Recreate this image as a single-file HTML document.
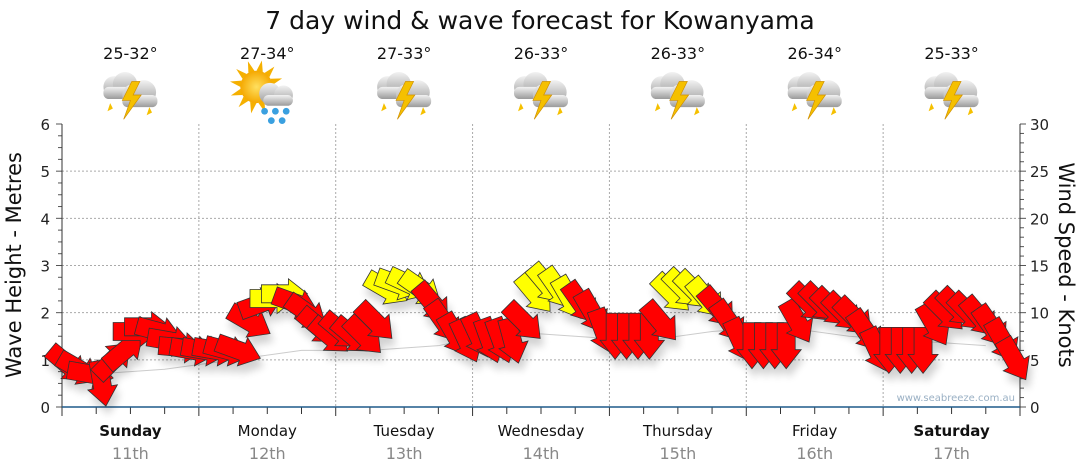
<!DOCTYPE html>
<html><head><meta charset="utf-8"><style>
html,body{margin:0;padding:0;background:#fff;width:1080px;height:475px;overflow:hidden}
svg{display:block;font-family:"DejaVu Sans","Liberation Sans",sans-serif}
</style></head><body>
<svg id="chart" width="1080" height="475" viewBox="0 0 1080 475" xmlns="http://www.w3.org/2000/svg">
<defs>
<linearGradient id="cg" x1="0" y1="0" x2="0" y2="1"><stop offset="0" stop-color="#f2f2f2"/><stop offset="1" stop-color="#9a9a9a"/></linearGradient>
<radialGradient id="sg"><stop offset="0" stop-color="#ffe060"/><stop offset="1" stop-color="#f5a800"/></radialGradient>
<filter id="sh" x="-20%" y="-20%" width="140%" height="160%"><feGaussianBlur in="SourceAlpha" stdDeviation="4"/><feOffset dx="3" dy="8"/><feComponentTransfer><feFuncA type="linear" slope="0.18"/></feComponentTransfer><feMerge><feMergeNode/><feMergeNode in="SourceGraphic"/></feMerge></filter>
</defs>
<text x="540" y="29" font-size="25" text-anchor="middle" fill="#111">7 day wind &amp; wave forecast for Kowanyama</text>
<g id="grid"></g>
<g id="axes"></g>
<g id="header"></g>
<g id="arrows" filter="url(#sh)"></g>
<text transform="translate(21,265) rotate(-90)" font-size="21" text-anchor="middle" fill="#111">Wave Height - Metres</text>
<text transform="translate(1059,265) rotate(90)" font-size="21" text-anchor="middle" fill="#111">Wind Speed - Knots</text>
<text x="1015" y="401" font-size="10" text-anchor="end" fill="#9ab0c4">www.seabreeze.com.au</text>
</svg>
<script>
const days = ["Sunday","Monday","Tuesday","Wednesday","Thursday","Friday","Saturday"];
const dates = ["11th","12th","13th","14th","15th","16th","17th"];
const boldDays = [true,false,false,false,false,false,true];
const temps = ["25-32°","27-34°","27-33°","26-33°","26-33°","26-34°","25-33°"];
const icons = ["storm","sunrain","storm","storm","storm","storm","storm"];
const waveTicks = [0,1,2,3,4,5,6];
const windTicks = [0,5,10,15,20,25,30];
// wind speed (knots), 12 per day
const windSpeed = [
 4.5,4,3.5,2.5,5,6,8,8.5,8,7,6.3,6,
 6,6,6,6,9,11,11.5,12,11,10,8.5,7.5,
 8,7.5,7.5,9,12.5,13,13,12.5,11,9,7.6,7,
 7.5,7,7,7,9,12,13,12.5,11.5,11,10,8,
 7.5,7.5,7.5,7.5,9,12,12.5,12.3,11.5,10.5,9,7,
 6.5,6.5,6.5,6.5,9,11,11,10.5,10,9.5,8,6,
 6,6,6,6,8.7,10,10.5,10,9.5,8.5,7,5
];
// direction the arrow points (degrees, 0 = right, 90 = down)
const windDir = [
 40,30,10,80,-45,-40,0,0,15,10,5,10,
 10,10,15,20,30,-20,0,0,20,35,40,40,
 40,40,45,45,30,20,25,35,50,55,60,65,
 65,70,70,75,45,50,50,55,60,55,60,70,
 90,90,90,90,50,45,45,45,50,50,55,65,
 90,90,90,90,60,45,45,45,45,45,55,65,
 90,90,90,90,60,45,45,45,50,55,60,60
];
const waveHeight = [0.7,0.8,1.0,1.2,1.2,1.3,1.6,1.5,1.4,1.6,1.7,1.5,1.4,1.3];

const NS="http://www.w3.org/2000/svg";
const X0=62,X1=1020,Y0=407,Y1=124;
const dayW=(X1-X0)/7;
const yWave=v=>Y0-(v/6)*(Y0-Y1);
const yWind=v=>Y0-(v/30)*(Y0-Y1);
const xIdx=i=>X0+(i+0.5)*dayW/12;
function mk(tag,attrs,parent){const e=document.createElementNS(NS,tag);for(const k in attrs)e.setAttribute(k,attrs[k]);parent.appendChild(e);return e;}
const grid=document.getElementById('grid'),axes=document.getElementById('axes'),header=document.getElementById('header'),arrows=document.getElementById('arrows');

waveTicks.forEach(v=>{
  if(v>0&&v<6){const l=mk('line',{x1:X0,x2:X1,y1:yWave(v),y2:yWave(v),stroke:'#aaa','stroke-dasharray':'2,2'},grid);
  
  }
  const t=mk('text',{x:50,y:yWave(v)+6,'font-size':15,'text-anchor':'end',fill:'#222'},axes);t.textContent=v;
  
  
});
for(let q=0;q<=24;q++){const y=Y0-q*(Y0-Y1)/24;mk('line',{x1:X0-(q%4?4:6),x2:X0,y1:y,y2:y,stroke:'#555'},axes);}
windTicks.forEach(v=>{
  const t=mk('text',{x:1030,y:yWind(v)+6,'font-size':15,fill:'#222'},axes);t.textContent=v;
  
  
});
for(let k=0;k<=30;k++){const y=yWind(k);mk('line',{x1:X1,x2:X1+(k%5?4:6),y1:y,y2:y,stroke:'#555'},axes);}
mk('line',{x1:X0,x2:X0,y1:Y1,y2:Y0+8,stroke:'#333'},axes);
mk('line',{x1:X1,x2:X1,y1:Y1,y2:Y0+8,stroke:'#333'},axes);
for(let d=1;d<7;d++){const x=X0+d*dayW;const l=mk('line',{x1:x,x2:x,y1:Y1,y2:Y0,stroke:'#aaa','stroke-dasharray':'2,2'},grid);
  
  }
for(let q=0;q<=28;q++){const x=X0+q*dayW/4;mk('line',{x1:x,x2:x,y1:Y0,y2:Y0+(q%4?7:9),stroke:'#333'},axes);}
mk('line',{x1:X0,x2:X1,y1:Y0,y2:Y0,stroke:'#1f5a8a','stroke-width':1.5},axes);

days.forEach((d,i)=>{
  const cx=X0+(i+0.5)*dayW;
  const t=mk('text',{x:cx,y:436,'font-size':15,'text-anchor':'middle',fill:'#111','font-weight':boldDays[i]?'bold':'normal'},axes);t.textContent=d;
  
  
  const t2=mk('text',{x:cx,y:459,'font-size':16,'text-anchor':'middle',fill:'#888'},axes);t2.textContent=dates[i];
  
  
  const t3=mk('text',{x:cx,y:59,'font-size':16,'text-anchor':'middle',fill:'#111'},header);t3.textContent=temps[i];
  
  
  const g=mk('g',{transform:`translate(${cx},95) scale(1.35)`},header);
  
  
  if(icons[i]==='sunrain'){
    for(let a=0;a<12;a++){const r=a*30*Math.PI/180;mk('polygon',{points:`${-8+Math.cos(r)*12},${-6+Math.sin(r)*12} ${-8+Math.cos(r+0.2)*20},${-6+Math.sin(r+0.2)*20} ${-8+Math.cos(r+0.4)*12},${-6+Math.sin(r+0.4)*12}`,fill:'#f5b000'},g);}
    mk('circle',{cx:-8,cy:-6,r:12,fill:'url(#sg)'},g);
    mk('circle',{cx:2,cy:-1,r:8,fill:'url(#cg)'},g);mk('circle',{cx:12,cy:0,r:7,fill:'url(#cg)'},g);
    mk('rect',{x:-3,y:0,width:22,height:8,rx:4,fill:'url(#cg)'},g);
    [[-2,12],[6,12],[14,12],[3,19],[11,19]].forEach(p=>mk('circle',{cx:p[0],cy:p[1],r:2.5,fill:'#3aa0e0'},g));
  } else {
    mk('circle',{cx:-12,cy:-6,r:8,fill:'url(#cg)'},g);mk('circle',{cx:-4,cy:-8,r:9,fill:'url(#cg)'},g);
    mk('rect',{x:-20,y:-6,width:22,height:9,rx:4,fill:'url(#cg)'},g);
    mk('circle',{cx:2,cy:0,r:8,fill:'url(#cg)'},g);mk('circle',{cx:10,cy:-2,r:9,fill:'url(#cg)'},g);
    mk('rect',{x:-6,y:0,width:26,height:9,rx:4,fill:'url(#cg)'},g);
    mk('polygon',{points:'1,-10 -6,4 0,4 -5,18 8,0 2,0 7,-10',fill:'#f5c000',stroke:'#d09000','stroke-width':0.5},g);
    mk('polygon',{points:'-15,6 -17,12 -13,10',fill:'#f5c000'},g);
    mk('polygon',{points:'14,9 12,15 16,13',fill:'#f5c000'},g);
  }
});

// wave line
const wpts=waveHeight.map((v,i)=>`${X0+(i+0.5)*(X1-X0)/waveHeight.length},${yWave(v)}`).join(' ');
const wl=mk('polyline',{points:wpts,fill:'none',stroke:'#ccc','stroke-width':1},grid);



windSpeed.forEach((s,i)=>{
  const x=xIdx(i),y=yWind(s);
  const col=s>=11.5?'#ffff00':'#ff0000';
  const p=mk('polygon',{points:'-23,-9 4,-9 4,-15 23,0 4,15 4,9 -23,9',fill:col,stroke:'#333','stroke-width':0.8,transform:`translate(${x},${y}) rotate(${windDir[i]})`},arrows);
  
  
});
</script>
</body></html>
